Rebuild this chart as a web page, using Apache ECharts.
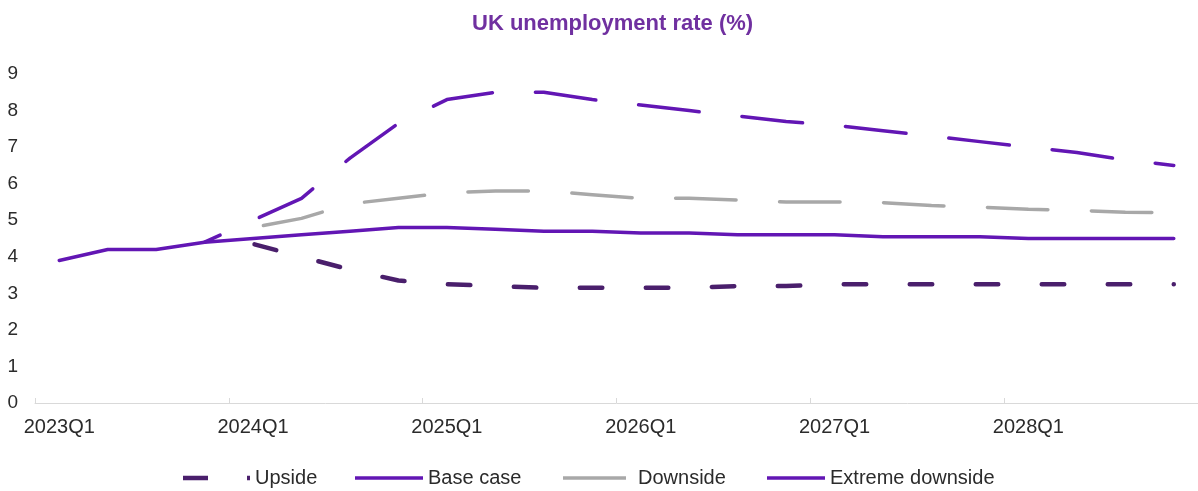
<!DOCTYPE html>
<html>
<head>
<meta charset="utf-8">
<script src="https://cdn.jsdelivr.net/npm/echarts@6/dist/echarts.min.js"></script>
<style>
  html, body { margin: 0; padding: 0; background: #ffffff; }
  #chart { width: 1198px; height: 491px; }
</style>
</head>
<body>
<div id="chart"></div>
<script>
// Quarters 2023Q1 .. 2028Q4
const quarters = [
  '2023Q1','2023Q2','2023Q3','2023Q4',
  '2024Q1','2024Q2','2024Q3','2024Q4',
  '2025Q1','2025Q2','2025Q3','2025Q4',
  '2026Q1','2026Q2','2026Q3','2026Q4',
  '2027Q1','2027Q2','2027Q3','2027Q4',
  '2028Q1','2028Q2','2028Q3','2028Q4'
];

// Unemployment rate (%) by scenario
const upside = [
  null, null, null, null,
  4.35, 4.0, 3.65, 3.35,
  3.25, 3.2, 3.15, 3.15,
  3.15, 3.15, 3.2, 3.2,
  3.25, 3.25, 3.25, 3.25,
  3.25, 3.25, 3.25, 3.25
];
const baseCase = [
  3.9, 4.2, 4.2, 4.4,
  4.5, 4.6, 4.7, 4.8,
  4.8, 4.75, 4.7, 4.7,
  4.65, 4.65, 4.6, 4.6,
  4.6, 4.55, 4.55, 4.55,
  4.5, 4.5, 4.5, 4.5
];
const downside = [
  null, null, null, null,
  4.8, 5.05, 5.45, 5.6,
  5.75, 5.8, 5.8, 5.7,
  5.6, 5.6, 5.55, 5.5,
  5.5, 5.48, 5.4, 5.36,
  5.3, 5.27, 5.22, 5.2
];
const extremeDownside = [
  null, null, null, 4.4,
  5.0, 5.6, 6.7, 7.65,
  8.3, 8.5, 8.5, 8.3,
  8.15, 8.0, 7.85, 7.7,
  7.6, 7.45, 7.3, 7.15,
  7.0, 6.85, 6.65, 6.5
];

const FONT = "'Liberation Sans', Arial, sans-serif";
const PURPLE = '#6216B4';
const DARK_PURPLE = '#4A1F6C';
const GREY = '#A8A8A8';
const TEXT = '#2b2b2b';

const chart = echarts.init(document.getElementById('chart'), null, { renderer: 'canvas' });

// One legend block per series so each key sits at its own spot
function legendAt(left, name, itemWidth, itemHeight, icon, textPadLeft) {
  return {
    left: left,
    top: 468,
    padding: 0,
    itemWidth: itemWidth,
    itemHeight: itemHeight,
    selectedMode: false,
    textStyle: {
      fontFamily: FONT, fontSize: 20, color: TEXT,
      padding: [0, 0, 0, textPadLeft || 0]
    },
    data: [{ name: name, icon: icon, itemStyle: { borderWidth: 0 } }]
  };
}

chart.setOption({
  animation: false,
  backgroundColor: '#ffffff',
  title: {
    text: 'UK unemployment rate (%)',
    left: 472,
    top: 13,
    padding: 0,
    textStyle: { fontFamily: FONT, fontSize: 22, fontWeight: 'bold', color: '#7030A0' }
  },
  legend: [
    legendAt(183, 'Upside', 67, 4.5, 'path://M0,0H25V4.5H0Z M64,0H67V4.5H64Z'),
    legendAt(355, 'Base case', 68, 3.5, 'rect'),
    legendAt(563, 'Downside', 63, 3.5, 'rect', 7),
    legendAt(767, 'Extreme downside', 58, 3.5, 'rect')
  ],
  grid: { left: 35, right: -8, top: 74, bottom: 88, containLabel: false },
  xAxis: {
    type: 'category',
    data: quarters,
    boundaryGap: true,
    axisLine: { show: true, lineStyle: { color: '#D9D9D9', width: 1 } },
    axisTick: { show: true, inside: true, length: 5, interval: 3, lineStyle: { color: '#D9D9D9' } },
    axisLabel: { interval: 3, margin: 14, fontFamily: FONT, fontSize: 20, color: TEXT },
    splitLine: { show: false }
  },
  yAxis: {
    type: 'value',
    min: 0,
    max: 9,
    interval: 1,
    axisLine: { show: false },
    axisTick: { show: false },
    splitLine: { show: false },
    axisLabel: { margin: 17, fontFamily: FONT, fontSize: 19, color: TEXT }
  },
  series: [
    {
      name: 'Upside', type: 'line', data: upside, symbol: 'none',
      lineStyle: { color: DARK_PURPLE, width: 4.5, type: [22.5, 43.5], dashOffset: 64.5, cap: 'round' },
      itemStyle: { color: DARK_PURPLE }
    },
    {
      name: 'Base case', type: 'line', data: baseCase, symbol: 'none',
      lineStyle: { color: PURPLE, width: 3.5, type: 'solid', cap: 'round', join: 'round' },
      itemStyle: { color: PURPLE }
    },
    {
      name: 'Downside', type: 'line', data: downside, symbol: 'none',
      lineStyle: { color: GREY, width: 3.5, type: [60.5, 43.5], dashOffset: 93.5, cap: 'round' },
      itemStyle: { color: GREY }
    },
    {
      name: 'Extreme downside', type: 'line', data: extremeDownside, symbol: 'none',
      lineStyle: { color: PURPLE, width: 3.5, type: [61, 43], dashOffset: 44, cap: 'round' },
      itemStyle: { color: PURPLE }
    }
  ]
});
</script>
</body>
</html>
